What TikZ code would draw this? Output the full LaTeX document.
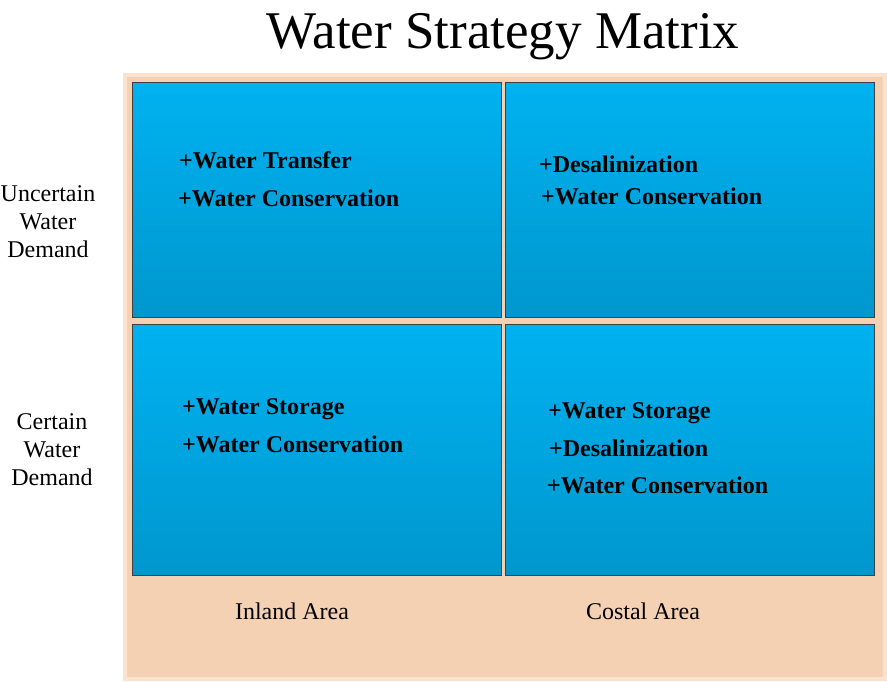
\documentclass[tikz,border=0pt]{standalone}
\usepackage{fontspec}
\setmainfont{Liberation Serif}
\begin{document}
\begin{tikzpicture}[x=1pt,y=-1pt,
  cell/.style={draw=black!75,line width=1.2pt,top color=cellTop,bottom color=cellBot,minimum width=369pt,anchor=north west,inner sep=0pt},
  item/.style={anchor=west,font=\fontsize{24}{28}\selectfont\bfseries,inner sep=0pt,text height=15.8pt,text depth=0pt},
  side/.style={align=center,font=\fontsize{24}{28}\selectfont,inner sep=0pt},
  axis/.style={font=\fontsize{24}{28}\selectfont,inner sep=0pt}]
\definecolor{cellTop}{HTML}{00B2F0}
\definecolor{cellBot}{HTML}{0097CE}
\definecolor{bgOuter}{HTML}{FAE2D0}
\definecolor{bgInner}{HTML}{F5D1B3}
\useasboundingbox (0,0) rectangle (887,681);
\fill[bgOuter] (123,73) rectangle (887,681);
\fill[bgInner] (127,77) rectangle (883,677);
\node[anchor=center,font=\fontsize{53}{56}\selectfont,inner sep=0pt] (title) at (503,37) {Water Strategy Matrix};
\node[cell,minimum height=235pt] (tl) at (132,82) {};
\node[cell,minimum height=235pt] (tr) at (505,82) {};
\node[cell,minimum height=251pt] (bl) at (132,324) {};
\node[cell,minimum height=251pt] (br) at (505,324) {};
\node[item] (tl1) at (179,161) {+Water Transfer};
\node[item] (tl2) at (178,199) {+Water Conservation};
\node[item] (tr1) at (539,165) {+Desalinization};
\node[item] (tr2) at (541,197) {+Water Conservation};
\node[item] (bl1) at (182,407) {+Water Storage};
\node[item] (bl2) at (182,445) {+Water Conservation};
\node[item] (br1) at (548,411) {+Water Storage};
\node[item] (br2) at (549,449) {+Desalinization};
\node[item] (br3) at (547,486) {+Water Conservation};
\node[side] (unc) at (48,222) {Uncertain\\Water\\Demand};
\node[side] (cer) at (52,450) {Certain\\Water\\Demand};
\node[axis] (inl) at (292,611) {Inland Area};
\node[axis] (cos) at (643,611) {Costal Area};
\end{tikzpicture}
\end{document}
